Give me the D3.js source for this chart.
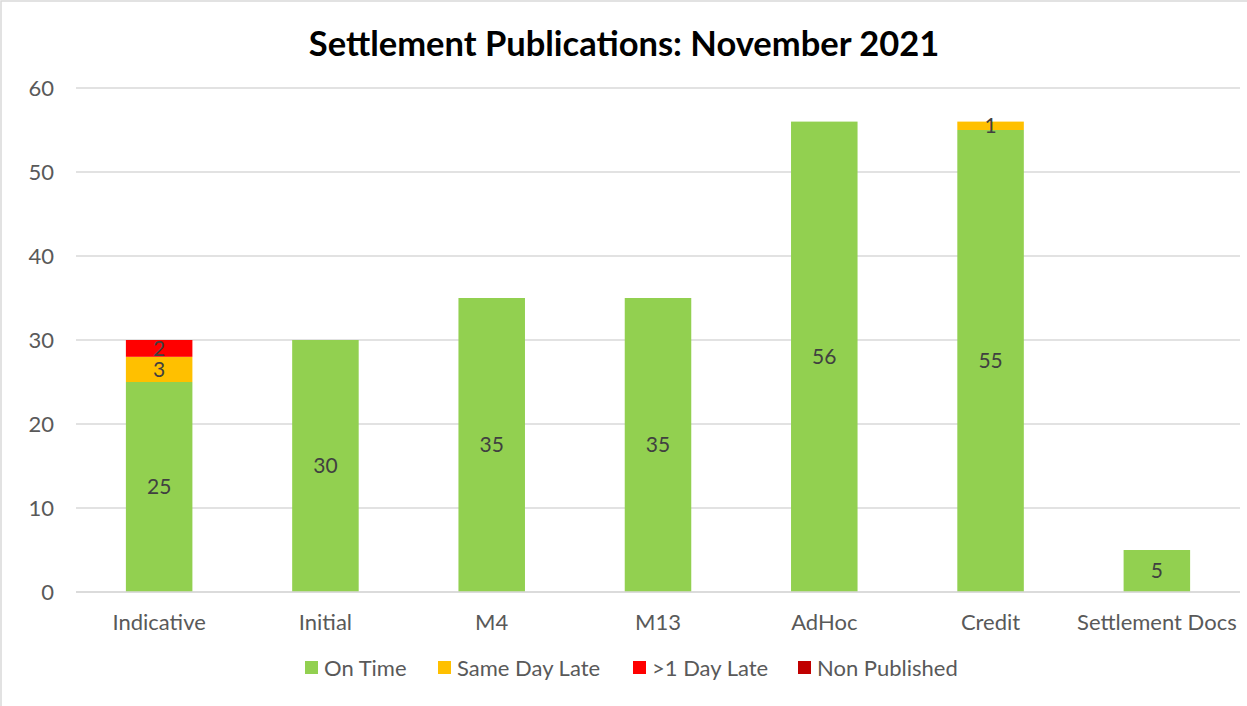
<!DOCTYPE html>
<html lang="en">
<head>
<meta charset="UTF-8">
<title>Settlement Publications: November 2021</title>
<script src="https://d3js.org/d3.v7.min.js"></script>
<style>
    body { margin: 0; background: #fff; }
    svg { display: block; font-family: Lato, "Open Sans", sans-serif; }
    .tick text { fill: #595959; font-size: 22px; font-family: Lato, "Open Sans", sans-serif; }
    .seg-label { fill: #404040; font-size: 21px; }
    .legend text { fill: #595959; font-size: 22px; }
</style>
</head>
<body>
<div id="chart"></div>
<script>
// chart data
const categories = ["Indicative", "Initial", "M4", "M13", "AdHoc", "Credit", "Settlement Docs"];
const seriesNames = ["On Time", "Same Day Late", ">1 Day Late", "Non Published"];
const onTime = [25, 30, 35, 35, 56, 55, 5];
const sameDayLate = [3, 0, 0, 0, 0, 1, 0];
const dayLate = [2, 0, 0, 0, 0, 0, 0];
const nonPublished = [0, 0, 0, 0, 0, 0, 0];
const yTicks = [0, 10, 20, 30, 40, 50, 60];
const colors = ["#92D050", "#FFC000", "#FF0000", "#C00000"];

const width = 1247, height = 706;
const margin = {top: 88, right: 7, bottom: 114, left: 76};

const svg = d3.select("#chart").append("svg")
    .attr("width", width)
    .attr("height", height);

// outer chart border (only left/top visible in frame)
svg.append("rect")
    .attr("x", 1).attr("y", 1)
    .attr("width", width + 20).attr("height", height + 20)
    .attr("fill", "none").attr("stroke", "#d9d9d9").attr("stroke-width", 1.5);

svg.append("text")
    .attr("x", 624).attr("y", 56)
    .attr("text-anchor", "middle")
    .style("font-size", "34.5px").style("font-weight", "bold").style("fill", "#000")
    .text("Settlement Publications: November 2021");

const x = d3.scaleBand()
    .domain(categories)
    .range([margin.left, width - margin.right])
    .paddingInner(0.6)
    .paddingOuter(0.3);

const y = d3.scaleLinear()
    .domain([0, 60])
    .range([height - margin.bottom, margin.top]);

// gridlines
svg.append("g")
    .selectAll("line")
    .data(yTicks)
    .join("line")
    .attr("x1", margin.left).attr("x2", width - margin.right)
    .attr("y1", d => y(d)).attr("y2", d => y(d))
    .attr("stroke", "#d9d9d9").attr("stroke-width", 1.5);

// y axis labels
const yAxis = svg.append("g")
    .attr("transform", `translate(${margin.left - 22},0)`)
    .call(d3.axisLeft(y).tickValues(yTicks).tickSize(0).tickPadding(0));
yAxis.select(".domain").remove();

// stacked bars
const rows = categories.map((c, i) => ({
    cat: c,
    "On Time": onTime[i],
    "Same Day Late": sameDayLate[i],
    ">1 Day Late": dayLate[i],
    "Non Published": nonPublished[i]
}));
const stacked = d3.stack().keys(seriesNames)(rows);

const layers = svg.append("g")
    .selectAll("g")
    .data(stacked)
    .join("g")
    .attr("fill", (d, i) => colors[i]);

layers.selectAll("rect")
    .data(d => d.filter(s => s[1] - s[0] > 0))
    .join("rect")
    .attr("x", d => x(d.data.cat))
    .attr("width", x.bandwidth())
    .attr("y", d => y(d[1]))
    .attr("height", d => y(d[0]) - y(d[1]));

layers.selectAll("text")
    .data(d => d.filter(s => s[1] - s[0] > 0))
    .join("text")
    .attr("class", "seg-label")
    .attr("x", d => x(d.data.cat) + x.bandwidth() / 2)
    .attr("y", d => y((d[0] + d[1]) / 2))
    .attr("dy", "0.35em")
    .attr("text-anchor", "middle")
    .text(d => d[1] - d[0]);

// x axis baseline + labels
svg.append("line")
    .attr("x1", margin.left).attr("x2", width - margin.right)
    .attr("y1", y(0)).attr("y2", y(0))
    .attr("stroke", "#d9d9d9").attr("stroke-width", 1.5);

const xAxis = svg.append("g")
    .attr("transform", `translate(0,${y(0) + 30})`)
    .call(d3.axisBottom(x).tickSize(0).tickPadding(0));
xAxis.select(".domain").remove();
xAxis.selectAll("text").attr("dy", "0.35em");

// legend
const legendX = [305, 438, 633, 798];
const legend = svg.append("g").attr("class", "legend")
    .selectAll("g")
    .data(seriesNames)
    .join("g")
    .attr("transform", (d, i) => `translate(${legendX[i]},668)`);
legend.append("rect")
    .attr("x", 0).attr("y", -7)
    .attr("width", 13).attr("height", 13)
    .attr("fill", (d, i) => colors[i]);
legend.append("text")
    .attr("x", 19).attr("dy", "0.35em")
    .text(d => d);
</script>
</body>
</html>
